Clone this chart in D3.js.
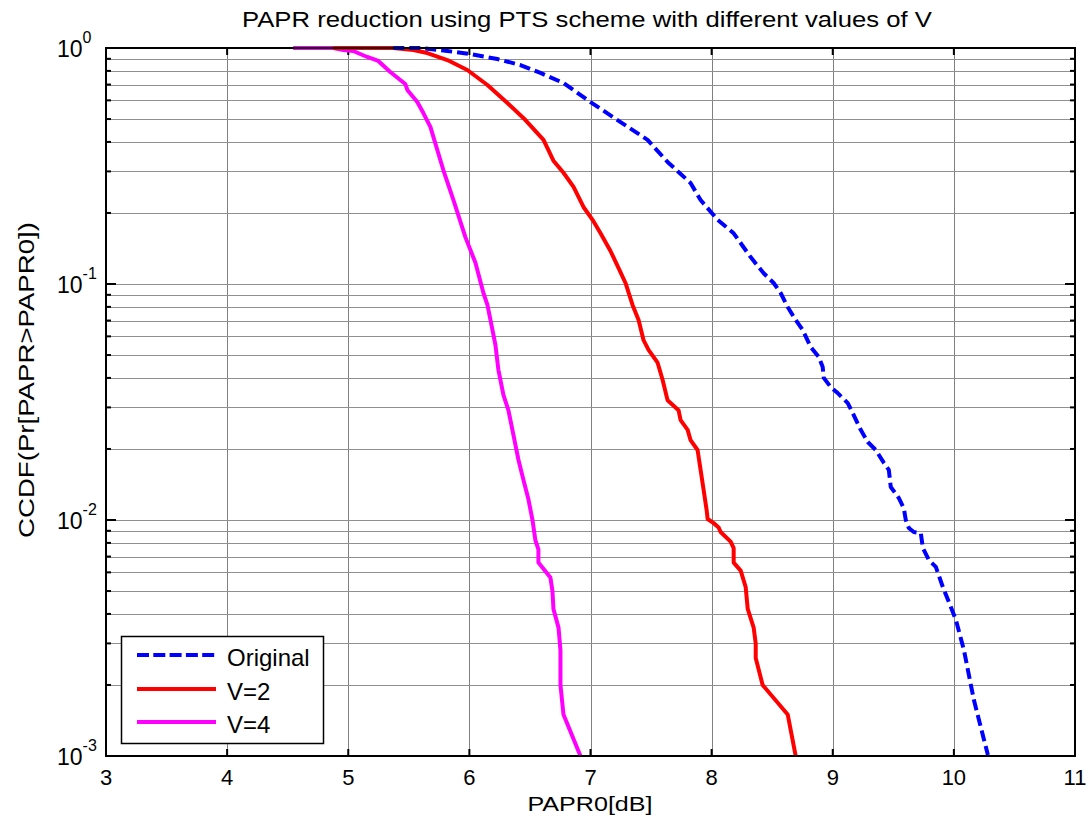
<!DOCTYPE html>
<html>
<head>
<meta charset="utf-8">
<script src="https://cdn.jsdelivr.net/npm/d3@7"></script>
<style>
  html, body { margin: 0; padding: 0; background: #fff; }
  svg { display: block; }
  text { font-family: "Liberation Sans", Arial, sans-serif; fill: #000; }
</style>
</head>
<body>
<svg id="chart" width="1091" height="823"></svg>
<script>
// ---------------- data ----------------
const titleText = "PAPR reduction using PTS scheme with different values of V";
const xLabel = "PAPR0[dB]";
const yLabel = "CCDF(Pr[PAPR>PAPR0])";
const xTicks = [3, 4, 5, 6, 7, 8, 9, 10, 11];
const yDecades = [0, -1, -2, -3];
const seriesNames = ["Original", "V=2", "V=4"];

const originalX = [5.372, 5.595, 5.818, 6.008, 6.231, 6.421, 6.587, 6.777, 7.000, 7.223, 7.471, 7.636, 7.826, 7.909, 8.050, 8.182, 8.322, 8.430, 8.512, 8.570, 8.628, 8.694, 8.752, 8.818, 8.884, 8.917, 8.926, 8.983, 9.041, 9.124, 9.165, 9.231, 9.289, 9.355, 9.421, 9.463, 9.479, 9.545, 9.587, 9.603, 9.628, 9.669, 9.727, 9.744, 9.793, 9.851, 9.909, 9.975, 10.017, 10.083, 10.165, 10.281];
const originalY = [1, 1, 0.971, 0.943, 0.898, 0.847, 0.784, 0.711, 0.590, 0.495, 0.408, 0.329, 0.268, 0.227, 0.187, 0.164, 0.130, 0.111, 0.101, 0.0916, 0.0799, 0.0704, 0.0638, 0.0541, 0.0491, 0.0445, 0.0400, 0.0366, 0.0345, 0.0313, 0.0284, 0.0241, 0.0214, 0.0198, 0.0175, 0.0163, 0.0138, 0.0124, 0.0112, 0.0100, 0.00925, 0.00889, 0.00881, 0.00761, 0.00677, 0.00633, 0.00520, 0.00428, 0.00377, 0.00281, 0.00173, 0.00101];

const v2X = [4.876, 5.372, 5.537, 5.653, 5.818, 5.983, 6.149, 6.314, 6.463, 6.612, 6.694, 6.777, 6.860, 6.942, 7.017, 7.083, 7.165, 7.231, 7.289, 7.347, 7.397, 7.438, 7.479, 7.554, 7.595, 7.636, 7.727, 7.744, 7.802, 7.826, 7.884, 7.909, 7.934, 7.959, 7.967, 8.017, 8.058, 8.074, 8.157, 8.182, 8.182, 8.240, 8.281, 8.298, 8.347, 8.364, 8.364, 8.421, 8.628, 8.694];
const v2Y = [1, 1, 0.981, 0.952, 0.889, 0.807, 0.697, 0.585, 0.495, 0.408, 0.333, 0.296, 0.258, 0.212, 0.187, 0.164, 0.138, 0.117, 0.101, 0.0815, 0.0704, 0.0578, 0.0526, 0.0464, 0.0393, 0.0322, 0.0292, 0.0265, 0.0241, 0.0218, 0.0198, 0.0163, 0.0134, 0.0110, 0.0101, 0.0097, 0.0093, 0.0089, 0.0081, 0.0076, 0.0066, 0.0061, 0.0052, 0.0042, 0.0035, 0.0030, 0.0026, 0.0020, 0.0015, 0.0010];

const v4X = [4.545, 4.876, 4.959, 5.041, 5.157, 5.248, 5.347, 5.471, 5.488, 5.570, 5.620, 5.678, 5.785, 5.868, 5.967, 6.050, 6.116, 6.149, 6.174, 6.215, 6.240, 6.281, 6.322, 6.364, 6.405, 6.446, 6.488, 6.521, 6.545, 6.570, 6.570, 6.669, 6.686, 6.694, 6.736, 6.752, 6.752, 6.777, 6.917];
const v4Y = [1, 1, 0.981, 0.971, 0.916, 0.881, 0.791, 0.704, 0.664, 0.590, 0.530, 0.463, 0.304, 0.227, 0.158, 0.123, 0.0916, 0.0815, 0.0704, 0.0552, 0.0432, 0.0339, 0.0292, 0.0229, 0.0180, 0.0148, 0.0122, 0.0100, 0.0082, 0.0075, 0.0066, 0.0057, 0.0050, 0.0042, 0.0035, 0.0028, 0.0020, 0.0015, 0.0010];

// ---------------- layout ----------------
const svg = d3.select("#chart");
const L = 106, R = 1075, T = 48, B = 756;

const x = d3.scaleLinear().domain([3, 11]).range([L, R]);
const y = d3.scaleLog().domain([1e-3, 1]).range([B, T]);

// minor log values
const minorVals = [];
yDecades.slice(1).forEach(d => {
  for (let k = 2; k <= 9; k++) minorVals.push(k * Math.pow(10, d));
});
const majorVals = yDecades.map(d => Math.pow(10, d));

// grid
const grid = svg.append("g");
grid.selectAll("line.vg").data(xTicks.slice(1, -1)).enter().append("line")
  .attr("x1", d => Math.round(x(d)) + 0.5).attr("x2", d => Math.round(x(d)) + 0.5)
  .attr("y1", T).attr("y2", B)
  .attr("stroke", "#808080").attr("stroke-width", 1);
grid.selectAll("line.hg").data(minorVals.concat(majorVals.slice(1, -1))).enter().append("line")
  .attr("x1", L).attr("x2", R)
  .attr("y1", d => Math.round(y(d)) + 0.5).attr("y2", d => Math.round(y(d)) + 0.5)
  .attr("stroke", "#909090").attr("stroke-width", 1);

// ticks (inward, MATLAB style)
const tk = svg.append("g").attr("stroke", "#000").attr("stroke-width", 2);
majorVals.forEach(v => {
  const yy = y(v);
  tk.append("line").attr("x1", L).attr("x2", L + 10).attr("y1", yy).attr("y2", yy);
  tk.append("line").attr("x1", R).attr("x2", R - 10).attr("y1", yy).attr("y2", yy);
});
minorVals.forEach(v => {
  const yy = y(v);
  tk.append("line").attr("x1", L).attr("x2", L + 5).attr("y1", yy).attr("y2", yy);
  tk.append("line").attr("x1", R).attr("x2", R - 5).attr("y1", yy).attr("y2", yy);
});
xTicks.forEach(v => {
  const xx = x(v);
  tk.append("line").attr("x1", xx).attr("x2", xx).attr("y1", B).attr("y2", B - 7);
  tk.append("line").attr("x1", xx).attr("x2", xx).attr("y1", T).attr("y2", T + 7);
});

// curves
const line = d3.line().x(d => x(d[0])).y(d => y(d[1]));
const series = [
  { name: seriesNames[0], pts: d3.zip(originalX, originalY), color: "#0000ff", dash: "11,5" },
  { name: seriesNames[1], pts: d3.zip(v2X, v2Y), color: "#ff0000", dash: null },
  { name: seriesNames[2], pts: d3.zip(v4X, v4Y), color: "#ff00ff", dash: null }
];
svg.append("defs").append("clipPath").attr("id", "clip")
  .append("rect").attr("x", L).attr("y", T - 3).attr("width", R - L).attr("height", B - T + 3);
const cg = svg.append("g").attr("clip-path", "url(#clip)");
series.slice().reverse().forEach(s => {
  cg.append("path").datum(s.pts)
    .attr("d", line)
    .attr("fill", "none")
    .attr("stroke", s.color)
    .attr("stroke-width", 4)
    .attr("stroke-linejoin", "round")
    .attr("stroke-dasharray", s.dash);
});

// axes box
svg.append("rect").attr("x", L).attr("y", T).attr("width", R - L).attr("height", B - T)
  .attr("fill", "none").attr("stroke", "#000").attr("stroke-width", 2);

// x tick labels
svg.selectAll("text.xt").data(xTicks).enter().append("text")
  .attr("x", d => x(d)).attr("y", 785)
  .attr("text-anchor", "middle").attr("font-size", 22)
  .text(d => d);

// y tick labels
yDecades.forEach(d => {
  const t = svg.append("text").attr("x", 57).attr("y", y(Math.pow(10, d)) + 9).attr("font-size", 23);
  t.append("tspan").text("10");
  t.append("tspan").attr("dy", -14).attr("font-size", 16).text(d);
});

// title
svg.append("text").attr("x", 587).attr("y", 27).attr("text-anchor", "middle")
  .attr("font-size", 22).attr("textLength", 690).attr("lengthAdjust", "spacingAndGlyphs")
  .text(titleText);

// axis labels
svg.append("text").attr("x", 590).attr("y", 811).attr("text-anchor", "middle")
  .attr("font-size", 21).attr("textLength", 125).attr("lengthAdjust", "spacingAndGlyphs")
  .text(xLabel);
svg.append("text").attr("transform", "translate(34,380) rotate(-90)")
  .attr("text-anchor", "middle").attr("font-size", 22)
  .attr("textLength", 316).attr("lengthAdjust", "spacingAndGlyphs")
  .text(yLabel);

// legend
const lg = svg.append("g");
lg.append("rect").attr("x", 121.5).attr("y", 636.5).attr("width", 202).attr("height", 107)
  .attr("fill", "#fff").attr("stroke", "#000").attr("stroke-width", 1.5);
const legY = [655, 689, 722];
series.forEach((s, i) => {
  lg.append("line").attr("x1", 137).attr("x2", 216).attr("y1", legY[i]).attr("y2", legY[i])
    .attr("stroke", s.color).attr("stroke-width", 4).attr("stroke-dasharray", s.dash ? "12,4.3" : null);
  lg.append("text").attr("x", 227).attr("y", legY[i] + 11).attr("font-size", 24).text(s.name);
});
</script>
</body>
</html>
